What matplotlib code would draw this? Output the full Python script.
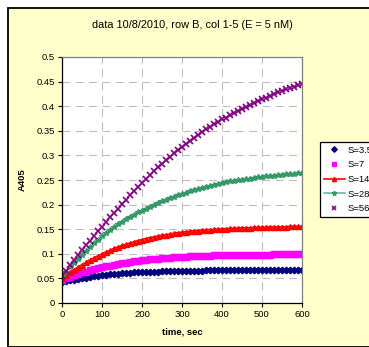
import numpy as np
import matplotlib
matplotlib.use('Agg')
import matplotlib.pyplot as plt
from matplotlib.patches import Rectangle

plt.rcParams['font.family'] = ['Liberation Sans', 'DejaVu Sans']

# time axis, seconds (one reading every 10 s)
time_s = list(range(0, 601, 10))

a405_s3_5 = [0.042, 0.044, 0.046, 0.047, 0.049, 0.050, 0.051, 0.053, 0.054, 0.055,
             0.056, 0.057, 0.058, 0.058, 0.059, 0.060, 0.060, 0.061, 0.062, 0.062,
             0.063, 0.063, 0.063, 0.064, 0.064, 0.065, 0.065, 0.065, 0.065, 0.066,
             0.066, 0.066, 0.066, 0.066, 0.066, 0.066, 0.067, 0.067, 0.067, 0.067,
             0.067, 0.067, 0.067, 0.067, 0.067, 0.067, 0.067, 0.067, 0.067, 0.067,
             0.067, 0.067, 0.067, 0.067, 0.067, 0.067, 0.067, 0.067, 0.067, 0.067,
             0.067]
a405_s7 = [0.046, 0.050, 0.053, 0.056, 0.059, 0.062, 0.064, 0.067, 0.069, 0.071,
           0.073, 0.075, 0.076, 0.078, 0.079, 0.081, 0.082, 0.083, 0.085, 0.086,
           0.087, 0.088, 0.089, 0.089, 0.090, 0.091, 0.092, 0.092, 0.093, 0.093,
           0.094, 0.094, 0.095, 0.095, 0.095, 0.096, 0.096, 0.096, 0.097, 0.097,
           0.097, 0.097, 0.097, 0.098, 0.098, 0.098, 0.098, 0.098, 0.098, 0.098,
           0.098, 0.098, 0.098, 0.099, 0.099, 0.099, 0.099, 0.099, 0.099, 0.099,
           0.099]
a405_s14 = [0.050, 0.056, 0.062, 0.068, 0.073, 0.078, 0.083, 0.088, 0.092, 0.096,
            0.100, 0.104, 0.107, 0.111, 0.114, 0.117, 0.119, 0.122, 0.124, 0.127,
            0.129, 0.131, 0.133, 0.134, 0.136, 0.138, 0.139, 0.140, 0.142, 0.143,
            0.144, 0.145, 0.146, 0.147, 0.147, 0.148, 0.149, 0.149, 0.150, 0.150,
            0.151, 0.151, 0.152, 0.152, 0.152, 0.153, 0.153, 0.153, 0.154, 0.154,
            0.154, 0.154, 0.155, 0.155, 0.155, 0.155, 0.155, 0.156, 0.156, 0.156,
            0.156]
a405_s28 = [0.055, 0.064, 0.073, 0.082, 0.090, 0.098, 0.106, 0.114, 0.121, 0.129,
            0.136, 0.142, 0.148, 0.154, 0.160, 0.165, 0.170, 0.175, 0.179, 0.184,
            0.188, 0.192, 0.196, 0.200, 0.203, 0.207, 0.210, 0.213, 0.216, 0.219,
            0.222, 0.224, 0.227, 0.229, 0.232, 0.234, 0.236, 0.238, 0.240, 0.242,
            0.244, 0.245, 0.247, 0.248, 0.250, 0.251, 0.252, 0.253, 0.255, 0.256,
            0.257, 0.258, 0.259, 0.259, 0.260, 0.261, 0.262, 0.263, 0.263, 0.264,
            0.265]
a405_s56 = [0.055, 0.066, 0.077, 0.087, 0.098, 0.108, 0.118, 0.127, 0.137, 0.146,
            0.155, 0.164, 0.174, 0.183, 0.192, 0.201, 0.210, 0.219, 0.227, 0.236,
            0.244, 0.252, 0.260, 0.268, 0.276, 0.283, 0.290, 0.297, 0.304, 0.311,
            0.318, 0.324, 0.330, 0.336, 0.342, 0.348, 0.353, 0.358, 0.363, 0.368,
            0.373, 0.377, 0.382, 0.386, 0.391, 0.395, 0.399, 0.403, 0.406, 0.410,
            0.414, 0.417, 0.421, 0.424, 0.428, 0.431, 0.434, 0.437, 0.440, 0.443,
            0.446]

series_labels = ['S=3.5', 'S=7', 'S=14', 'S=28', 'S=56']
x_ticks = [0, 100, 200, 300, 400, 500, 600]
y_ticks = [0, 0.05, 0.1, 0.15, 0.2, 0.25, 0.3, 0.35, 0.4, 0.45, 0.5]

W, H = 369, 347
fig = plt.figure(figsize=(W / 100, H / 100), dpi=100, facecolor='white')

# yellow chart area with black border (runs off the right edge)
fig.patches.append(Rectangle((8 / W, 0.5 / H), 1.2, 1 - 8.5 / H, transform=fig.transFigure,
                             facecolor='#FFFFCC', edgecolor='black', linewidth=1.3, zorder=-10))

ax = fig.add_axes([62 / W, 1 - 303 / H, 240 / W, 246 / H])
ax.set_facecolor('white')

ax.plot(time_s, a405_s3_5, linestyle='none', marker='D', markersize=3.3, color='#000080',
        label=series_labels[0])
ax.plot(time_s, a405_s7, linestyle='none', marker='s', markersize=4.2, color='#FF00FF',
        label=series_labels[1])
ax.plot(time_s, a405_s14, linestyle='-', linewidth=1.2, marker='^', markersize=3.6,
        color='#FF0000', label=series_labels[2])
ax.plot(time_s, a405_s28, linestyle='-', linewidth=1.2, color='#66BB99', marker='*',
        markersize=4.0, markeredgecolor='#339966', markerfacecolor='#339966',
        label=series_labels[3])
ax.plot(time_s, a405_s56, linestyle='none', marker='x', markersize=4.0, markeredgewidth=1.2,
        color='#800080', label=series_labels[4])

ax.set_xlim(0, 600)
ax.set_ylim(0, 0.5)
ax.set_xticks(x_ticks)
ax.set_yticks(y_ticks)
ax.set_yticklabels(['0', '0.05', '0.1', '0.15', '0.2', '0.25', '0.3', '0.35', '0.4', '0.45', '0.5'])
ax.tick_params(labelsize=6.8, length=3, width=0.8, direction='out', pad=2)
ax.grid(True, color='#BDBDBD', linestyle=(0, (7, 5)), linewidth=0.8)
ax.set_axisbelow(True)
for side in ['top', 'right']:
    ax.spines[side].set_color('#808080')
    ax.spines[side].set_linewidth(0.9)
for side in ['left', 'bottom']:
    ax.spines[side].set_color('black')
    ax.spines[side].set_linewidth(0.9)

ax.set_xlabel('time, sec', fontsize=6.8, fontweight='bold', labelpad=6)
ax.set_ylabel('A405', fontsize=6.8, fontweight='bold', labelpad=7)

fig.text(192 / W, 1 - 25 / H, 'data 10/8/2010, row B, col 1-5 (E = 5 nM)',
         ha='center', va='center', fontsize=7.9)

leg = fig.legend(loc='upper left', bbox_to_anchor=(320 / W, 1 - 142 / H), fontsize=6.8,
                 frameon=True, fancybox=False, edgecolor='black', facecolor='white',
                 framealpha=1, handlelength=2.2, handletextpad=0.3, borderpad=0.4,
                 labelspacing=0.6, borderaxespad=0, markerscale=0.85)
leg.get_frame().set_linewidth(0.9)

fig.savefig('out.png', dpi=100, facecolor=fig.get_facecolor())
